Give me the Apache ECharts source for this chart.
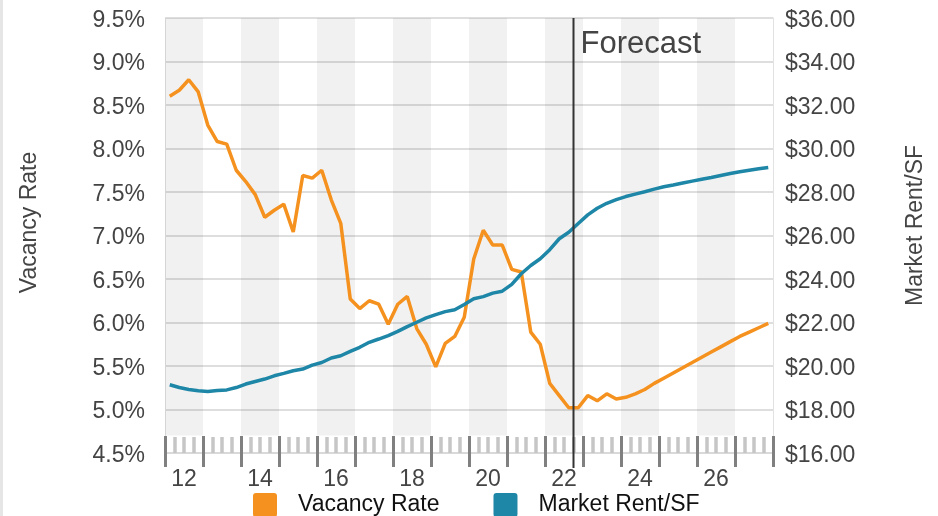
<!DOCTYPE html>
<html><head><meta charset="utf-8">
<script src="https://cdn.jsdelivr.net/npm/echarts@6/dist/echarts.min.js"></script>
<style>html,body{margin:0;padding:0;background:#fff}#c{width:938px;height:516px}</style>
</head><body><div id="c"></div>
<script>
// ---- data ----
const years = [2012,2013,2014,2015,2016,2017,2018,2019,2020,2021,2022,2023,2024,2025,2026,2027];
const yearLabels = ['12','13','14','15','16','17','18','19','20','21','22','23','24','25','26','27'];
const quartersPerYear = 4;
const forecastStart = 2022.75; // forecast begins after 2022 Q3
const forecastLabel = 'Forecast';
const vacancyRate = [
  8.60, 8.67, 8.79, 8.65,
  8.27, 8.08, 8.05, 7.75,
  7.62, 7.47, 7.21, 7.29,
  7.36, 7.04, 7.69, 7.66,
  7.75, 7.41, 7.14, 6.27,
  6.16, 6.25, 6.21, 5.98,
  6.21, 6.30, 5.93, 5.75,
  5.49, 5.76, 5.84, 6.06,
  6.73, 7.06, 6.89, 6.89,
  6.61, 6.58, 5.89, 5.75,
  5.30, 5.16, 5.02, 5.02,
  5.16, 5.10, 5.18, 5.12,
  5.14, 5.18, 5.23, 5.30,
  5.36, 5.42, 5.48, 5.54,
  5.60, 5.66, 5.72, 5.78,
  5.84, 5.89, 5.94, 5.99
];
const marketRent = [
  19.14, 19.01, 18.92, 18.86,
  18.83, 18.87, 18.90, 19.01,
  19.17, 19.29, 19.40, 19.55,
  19.66, 19.78, 19.86, 20.04,
  20.16, 20.37, 20.47, 20.67,
  20.86, 21.09, 21.24, 21.40,
  21.59, 21.81, 22.01, 22.21,
  22.36, 22.50, 22.59, 22.83,
  23.09, 23.19, 23.35, 23.44,
  23.75, 24.24, 24.62, 24.93,
  25.35, 25.85, 26.15, 26.55,
  26.95, 27.25, 27.48, 27.65,
  27.79, 27.90, 28.01, 28.13,
  28.24, 28.32, 28.41, 28.50,
  28.59, 28.67, 28.76, 28.85,
  28.93, 29.00, 29.07, 29.13
];
const seriesNames = ['Vacancy Rate', 'Market Rent/SF'];

// ---- build ----
const FONT = "'Liberation Sans', Arial, sans-serif";
const ORANGE = '#F5921F', BLUE = '#1E86A6';
const ICON = 'path://M3,0 H21 A3,3 0 0 1 24,3 V21 A3,3 0 0 1 21,24 H3 A3,3 0 0 1 0,21 V3 A3,3 0 0 1 3,0 Z';
function qx(i){ return years[0] + Math.floor(i/quartersPerYear) + ((i%quartersPerYear)+0.5)/quartersPerYear; }
const vacData = vacancyRate.map((v,i)=>[qx(i), v]);
const rentData = marketRent.map((v,i)=>[qx(i), v]);
const bands = years.filter(y=>y%2===0).map(y=>[{xAxis:y, yAxis:4.7},{xAxis:y+1, yAxis:9.5}]);
const tickRich = {t:{fontSize:23, color:'#444', fontFamily:FONT, padding:[5,0,0,0]}};

const chart = echarts.init(document.getElementById('c'), null, {renderer:'canvas'});
chart.setOption({
  animation:false,
  textStyle:{fontFamily:FONT},
  grid:{left:165, right:165, top:18, bottom:63},
  legend:{
    data:seriesNames, left:248, top:488, itemGap:54, icon:ICON,
    itemWidth:24, itemHeight:24,
    textStyle:{fontSize:23, color:'#111', fontFamily:FONT, padding:[0,0,0,16]}
  },
  xAxis:[
    {type:'value', min:years[0], max:years[years.length-1]+1, interval:1, position:'bottom',
     axisLine:{show:true, lineStyle:{color:'#d8d8d8', width:1.5}},
     axisTick:{show:true, inside:true, length:17, lineStyle:{color:'#808080', width:3}},
     minorTick:{show:true, splitNumber:4, length:16, lineStyle:{color:'#c6c6c6', width:3.5}},
     axisLabel:{show:false}, splitLine:{show:false}},
    {type:'category', data:yearLabels, boundaryGap:true, position:'bottom',
     axisLine:{show:false},
     axisTick:{show:true, inside:false, length:14, interval:0, lineStyle:{color:'#808080', width:3}},
     axisLabel:{show:true, interval:1, fontSize:23, color:'#444', margin:15, fontFamily:FONT},
     splitLine:{show:false}}
  ],
  yAxis:[
    {type:'value', position:'left', min:4.5, max:9.5, interval:0.5,
     name:'Vacancy Rate', nameLocation:'middle', nameGap:124,
     nameTextStyle:{fontSize:23, color:'#444', fontFamily:FONT, padding:[0,0,0,26]},
     axisLine:{show:true, lineStyle:{color:'#e2e2e2', width:1}},
     axisTick:{show:false},
     axisLabel:{margin:20, rich:tickRich, formatter:v=>'{t|'+v.toFixed(1)+'%}'},
     splitLine:{show:true, lineStyle:{color:'#d3d3d3', width:1.5}}},
    {type:'value', position:'right', min:16, max:36, interval:2,
     name:'Market Rent/SF', nameLocation:'middle', nameGap:131,
     nameTextStyle:{fontSize:23, color:'#444', fontFamily:FONT, padding:[0,0,0,20]},
     axisLine:{show:true, lineStyle:{color:'#e2e2e2', width:1}},
     axisTick:{show:false},
     axisLabel:{margin:12, rich:tickRich, formatter:v=>'{t|$'+v.toFixed(2)+'}'},
     splitLine:{show:false}}
  ],
  series:[
    {type:'line', name:'bands', xAxisIndex:0, yAxisIndex:0, data:[], silent:true,
     markArea:{silent:true, itemStyle:{color:'rgba(0,0,0,0.055)'}, data:bands}},
    {type:'line', name:seriesNames[0], xAxisIndex:0, yAxisIndex:0, data:vacData, symbol:'none',
     itemStyle:{color:ORANGE}, lineStyle:{color:ORANGE, width:3.5}, z:3},
    {type:'line', name:seriesNames[1], xAxisIndex:0, yAxisIndex:1, data:rentData, symbol:'none',
     itemStyle:{color:BLUE}, lineStyle:{color:BLUE, width:3.5}, z:4}
  ]
});
const fx = chart.convertToPixel({xAxisIndex:0}, forecastStart);
const topY = chart.convertToPixel({yAxisIndex:0}, 9.5);
chart.setOption({graphic:[
  {type:'rect', shape:{x:0, y:0, width:3, height:516}, style:{fill:'#e6e6e6'}, silent:true},
  {type:'line', shape:{x1:fx, y1:topY, x2:fx, y2:topY+450}, style:{stroke:'#333', lineWidth:2}, z:10, silent:true},
  {type:'text', x:fx+7, y:topY+26, style:{text:forecastLabel, fontSize:31, fill:'#444', fontFamily:FONT, verticalAlign:'middle'}, z:10, silent:true}
]});
</script></body></html>
